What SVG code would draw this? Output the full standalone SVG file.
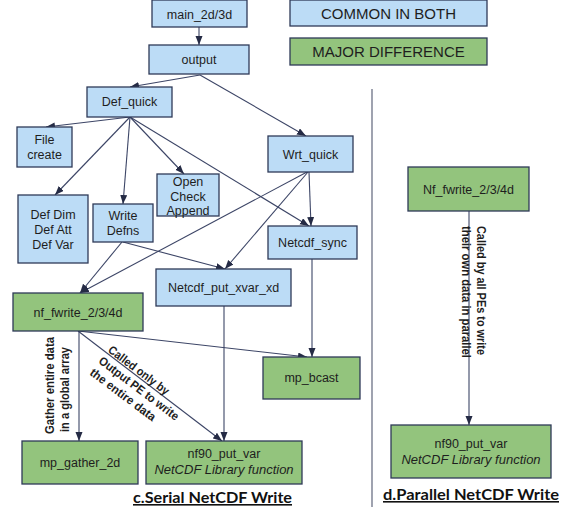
<svg xmlns="http://www.w3.org/2000/svg" width="563" height="512" viewBox="0 0 563 512">
<style>
.blue{fill:#BCDCF6;stroke:#2E3A58;stroke-width:1.3}
.green{fill:#93C47D;stroke:#2E3A58;stroke-width:1.3}
.t{font-family:"Liberation Sans",Arial,sans-serif;font-size:12.5px;fill:#1E1E1E;text-anchor:middle}
.it{font-style:italic;font-size:13px}
.leg{font-size:15px}
.c{fill:none;stroke:#3C4566;stroke-width:1.1}
.note{font-family:"Liberation Sans",Arial,sans-serif;font-weight:bold;font-size:12px;fill:#1E1E1E}
.title{font-family:Lato,"Liberation Sans",sans-serif;font-weight:bold;font-size:16px;fill:#111;text-decoration:underline}
</style>
<defs>
<marker id="ah" markerUnits="userSpaceOnUse" markerWidth="9" markerHeight="8" refX="9" refY="3.5" orient="auto">
<path d="M0,0 L9,3.5 L0,7 z" fill="#252B45"/>
</marker>
</defs>

<g id="connectors">
<path class="c" marker-end="url(#ah)" d="M199,27 L199,45"/>
<path class="c" marker-end="url(#ah)" d="M200,75 L130,87"/>
<path class="c" marker-end="url(#ah)" d="M200,75 L306,136"/>
<path class="c" marker-end="url(#ah)" d="M130,117 L46,127"/>
<path class="c" marker-end="url(#ah)" d="M130,117 L55,195"/>
<path class="c" marker-end="url(#ah)" d="M130,117 L123,204"/>
<path class="c" marker-end="url(#ah)" d="M130,117 L184,174"/>
<path class="c" marker-end="url(#ah)" d="M130,117 L309,226"/>
<path class="c" marker-end="url(#ah)" d="M309,172 L311,226"/>
<path class="c" marker-end="url(#ah)" d="M307,172 L80,293"/>
<path class="c" marker-end="url(#ah)" d="M308,172 L225,269"/>
<path class="c" marker-end="url(#ah)" d="M122,242 L80,293"/>
<path class="c" marker-end="url(#ah)" d="M123,242 L225,269"/>
<path class="c" marker-end="url(#ah)" d="M312,259 L312,357"/>
<path class="c" marker-end="url(#ah)" d="M78,331 L307,357"/>
<path class="c" marker-end="url(#ah)" d="M79,331 L79,441"/>
<path class="c" marker-end="url(#ah)" d="M78,331 L222,441"/>
<path class="c" marker-end="url(#ah)" d="M224,306 L224,441"/>
<path class="c" marker-end="url(#ah)" d="M469,211 L469,425"/>
</g>

<line x1="372" y1="89" x2="372" y2="507" stroke="#50566E" stroke-width="1.1"/>

<g id="legend-common"><rect class="blue" x="290" y="0" width="197" height="26"/><text class="t leg" x="388.5" y="18.5">COMMON IN BOTH</text></g>
<g id="legend-major"><rect class="green" x="290" y="38" width="197" height="27"/><text class="t leg" x="388.5" y="57">MAJOR DIFFERENCE</text></g>

<g id="main"><rect class="blue" x="152" y="0" width="95" height="27"/><text class="t" x="199.5" y="19">main_2d/3d</text></g>
<g id="output"><rect class="blue" x="149" y="45" width="100" height="29"/><text class="t" x="199" y="63.5">output</text></g>
<g id="defquick"><rect class="blue" x="87" y="87" width="85" height="30"/><text class="t" x="129.5" y="106">Def_quick</text></g>
<g id="filecreate"><rect class="blue" x="17" y="127" width="55" height="40"/><text class="t" x="44.5" y="144">File</text><text class="t" x="44.5" y="158.5">create</text></g>
<g id="defdim"><rect class="blue" x="18" y="195" width="70" height="68"/><text class="t" x="53" y="218.5">Def Dim</text><text class="t" x="53" y="233.5">Def Att</text><text class="t" x="53" y="248.5">Def Var</text></g>
<g id="writedefns"><rect class="blue" x="93" y="204" width="60" height="38"/><text class="t" x="123" y="220">Write</text><text class="t" x="123" y="235">Defns</text></g>
<g id="opencheck"><rect class="blue" x="157" y="174" width="62" height="42"/><text class="t" x="188" y="185.5">Open</text><text class="t" x="188" y="200.5">Check</text><text class="t" x="188" y="215">Append</text></g>
<g id="wrtquick"><rect class="blue" x="268" y="136" width="85" height="36"/><text class="t" x="310.5" y="159">Wrt_quick</text></g>
<g id="netcdfsync"><rect class="blue" x="268" y="226" width="89" height="33"/><text class="t" x="312.5" y="247">Netcdf_sync</text></g>
<g id="putxvar"><rect class="blue" x="156" y="269" width="135" height="37"/><text class="t" x="223.5" y="292">Netcdf_put_xvar_xd</text></g>
<g id="nffwrite"><rect class="green" x="13" y="293" width="130" height="38"/><text class="t" x="78" y="316.5">nf_fwrite_2/3/4d</text></g>
<g id="mpbcast"><rect class="green" x="263" y="357" width="97" height="42"/><text class="t" x="311.5" y="381.5">mp_bcast</text></g>
<g id="mpgather"><rect class="green" x="22" y="441" width="116" height="43"/><text class="t" x="80" y="467">mp_gather_2d</text></g>
<g id="nf90serial"><rect class="green" x="146" y="441" width="156" height="43"/><text class="t" x="224" y="458">nf90_put_var</text><text class="t it" x="224" y="473.5">NetCDF Library function</text></g>
<g id="pnffwrite"><rect class="green" x="408" y="167" width="121" height="44"/><text class="t" x="468.5" y="193.5">Nf_fwrite_2/3/4d</text></g>
<g id="nf90parallel"><rect class="green" x="391" y="425" width="160" height="53"/><text class="t" x="471" y="448">nf90_put_var</text><text class="t it" x="471" y="463.5">NetCDF Library function</text></g>

<g id="label-gather">
<text class="note" transform="translate(54,434) rotate(-90)" textLength="97" lengthAdjust="spacingAndGlyphs">Gather entire data</text>
<text class="note" transform="translate(69,432) rotate(-90)" textLength="85" lengthAdjust="spacingAndGlyphs">in a global array</text>
</g>
<g id="label-output" transform="translate(113,344) rotate(37)">
<text class="note" x="0" y="9.5" textLength="73" lengthAdjust="spacingAndGlyphs">Called only by</text>
<text class="note" x="-1" y="24" textLength="97" lengthAdjust="spacingAndGlyphs">Output PE to write</text>
<text class="note" x="-1" y="38.5" textLength="79" lengthAdjust="spacingAndGlyphs">the entire data</text>
</g>
<g id="label-parallel">
<text class="note" transform="translate(476.5,226) rotate(90)" textLength="129" lengthAdjust="spacingAndGlyphs">Called by all PEs to write</text>
<text class="note" transform="translate(461.5,226) rotate(90)" textLength="132" lengthAdjust="spacingAndGlyphs">their own data in parallel</text>
</g>

<text class="title" x="133" y="503" textLength="159" lengthAdjust="spacingAndGlyphs">c.Serial NetCDF Write</text>
<text class="title" x="383" y="500" textLength="176" lengthAdjust="spacingAndGlyphs">d.Parallel NetCDF Write</text>
</svg>
